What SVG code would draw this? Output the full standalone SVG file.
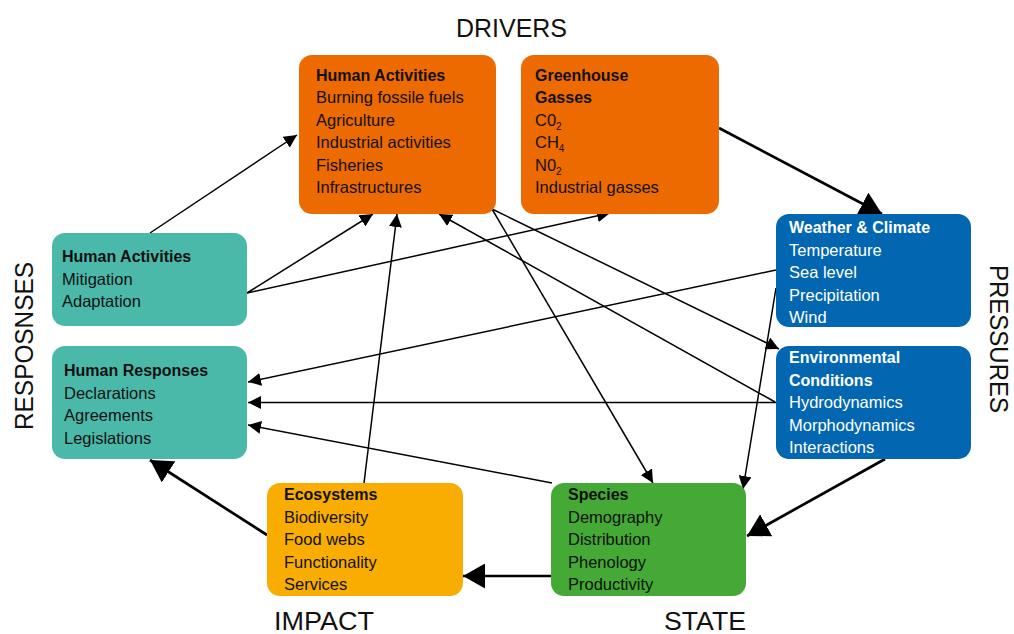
<svg xmlns="http://www.w3.org/2000/svg" width="1014" height="634" viewBox="0 0 1014 634">
<style>
  text { font-family: "Liberation Sans", Arial, sans-serif; }
  .t { font-size: 16.5px; fill: #111; }
  .h { font-size: 16px; font-weight: bold; fill: #111; }
  .w { fill: #fff; }
  .lab { font-size: 26px; fill: #111; }
  .box { stroke: none; }
  .c { fill: none; stroke: #000; stroke-width: 1.5; marker-end: url(#a); }
  .k { fill: none; stroke: #000; stroke-width: 2.7; marker-end: url(#b); }
</style>
<defs>
  <marker id="a" markerUnits="userSpaceOnUse" markerWidth="14" markerHeight="13" refX="13" refY="6.5" orient="auto">
    <path d="M0,0 L13,6.5 L0,13 z" fill="#000"/>
  </marker>
  <marker id="b" markerUnits="userSpaceOnUse" markerWidth="23" markerHeight="25" refX="22" refY="12.5" orient="auto">
    <path d="M0,0 L22,12.5 L0,25 z" fill="#000"/>
  </marker>
</defs>
<rect width="1014" height="634" fill="#fff"/>

<g id="labels">
  <text class="lab" x="511.5" y="37" text-anchor="middle" textLength="111" lengthAdjust="spacingAndGlyphs">DRIVERS</text>
  <text class="lab" x="274" y="630" textLength="100" lengthAdjust="spacingAndGlyphs">IMPACT</text>
  <text class="lab" x="664" y="630" textLength="82" lengthAdjust="spacingAndGlyphs">STATE</text>
  <text class="lab" transform="translate(33,346) rotate(-90)" text-anchor="middle" textLength="168" lengthAdjust="spacingAndGlyphs">RESPOSNSES</text>
  <text class="lab" transform="translate(990,339) rotate(90)" text-anchor="middle" textLength="148" lengthAdjust="spacingAndGlyphs">PRESSURES</text>
</g>

<g id="connectors">
  <line class="c" x1="150" y1="233" x2="297" y2="135"/>
  <line class="c" x1="247" y1="293" x2="373" y2="214"/>
  <line class="c" x1="247" y1="293" x2="610" y2="213"/>
  <line class="c" x1="364" y1="483" x2="397" y2="214"/>
  <line class="c" x1="775" y1="402" x2="439" y2="214"/>
  <line class="c" x1="492" y1="209" x2="779" y2="349"/>
  <line class="c" x1="492" y1="209" x2="653" y2="483"/>
  <line class="c" x1="776" y1="270" x2="248" y2="382"/>
  <line class="c" x1="776" y1="288" x2="743" y2="489"/>
  <line class="c" x1="776" y1="402.5" x2="248" y2="402.5"/>
  <line class="c" x1="552" y1="483" x2="248" y2="425"/>
  <line class="k" x1="719" y1="128" x2="882" y2="214"/>
  <line class="k" x1="885" y1="459" x2="747" y2="536"/>
  <line class="k" x1="551" y1="576" x2="463" y2="576"/>
  <line class="k" x1="267" y1="535" x2="150" y2="460"/>
</g>

<g id="drivers-human-activities">
  <rect class="box" x="299" y="55" width="197" height="159" rx="13" fill="#EC6A00"/>
  <text class="h" x="316" y="81">Human Activities</text>
  <text class="t" x="316" y="103">Burning fossile fuels</text>
  <text class="t" x="316" y="125.5">Agriculture</text>
  <text class="t" x="316" y="148">Industrial activities</text>
  <text class="t" x="316" y="170.5">Fisheries</text>
  <text class="t" x="316" y="193">Infrastructures</text>
</g>

<g id="greenhouse-gasses">
  <rect class="box" x="521" y="55" width="198" height="159" rx="13" fill="#EC6A00"/>
  <text class="h" x="535" y="81">Greenhouse</text>
  <text class="h" x="535" y="103">Gasses</text>
  <text class="t" x="535" y="125.5">C0<tspan font-size="10" dy="4">2</tspan></text>
  <text class="t" x="535" y="148">CH<tspan font-size="10" dy="4">4</tspan></text>
  <text class="t" x="535" y="170.5">N0<tspan font-size="10" dy="4">2</tspan></text>
  <text class="t" x="535" y="193">Industrial gasses</text>
</g>

<g id="weather-climate">
  <rect class="box" x="776" y="214" width="195" height="113" rx="13" fill="#0267B0"/>
  <text class="h w" x="789" y="233">Weather &amp; Climate</text>
  <text class="t w" x="789" y="255.5">Temperature</text>
  <text class="t w" x="789" y="278">Sea level</text>
  <text class="t w" x="789" y="300.5">Precipitation</text>
  <text class="t w" x="789" y="323">Wind</text>
</g>

<g id="environmental-conditions">
  <rect class="box" x="776" y="346" width="195" height="113" rx="13" fill="#0267B0"/>
  <text class="h w" x="789" y="363">Environmental</text>
  <text class="h w" x="789" y="385.5">Conditions</text>
  <text class="t w" x="789" y="408">Hydrodynamics</text>
  <text class="t w" x="789" y="430.5">Morphodynamics</text>
  <text class="t w" x="789" y="453">Interactions</text>
</g>

<g id="responses-human-activities">
  <rect class="box" x="52" y="233" width="195" height="93" rx="13" fill="#4AB9A9"/>
  <text class="h" x="62" y="262">Human Activities</text>
  <text class="t" x="62" y="284.5">Mitigation</text>
  <text class="t" x="62" y="307">Adaptation</text>
</g>

<g id="human-responses">
  <rect class="box" x="52" y="346" width="195" height="113" rx="13" fill="#4AB9A9"/>
  <text class="h" x="64" y="376">Human Responses</text>
  <text class="t" x="64" y="398.5">Declarations</text>
  <text class="t" x="64" y="421">Agreements</text>
  <text class="t" x="64" y="443.5">Legislations</text>
</g>

<g id="ecosystems">
  <rect class="box" x="267" y="483" width="196" height="113" rx="13" fill="#F9AD00"/>
  <text class="h" x="284" y="500">Ecosystems</text>
  <text class="t" x="284" y="522.5">Biodiversity</text>
  <text class="t" x="284" y="545">Food webs</text>
  <text class="t" x="284" y="567.5">Functionality</text>
  <text class="t" x="284" y="590">Services</text>
</g>

<g id="species">
  <rect class="box" x="551" y="483" width="195" height="113" rx="13" fill="#44A935"/>
  <text class="h" x="568" y="500">Species</text>
  <text class="t" x="568" y="522.5">Demography</text>
  <text class="t" x="568" y="545">Distribution</text>
  <text class="t" x="568" y="567.5">Phenology</text>
  <text class="t" x="568" y="590">Productivity</text>
</g>
</svg>
